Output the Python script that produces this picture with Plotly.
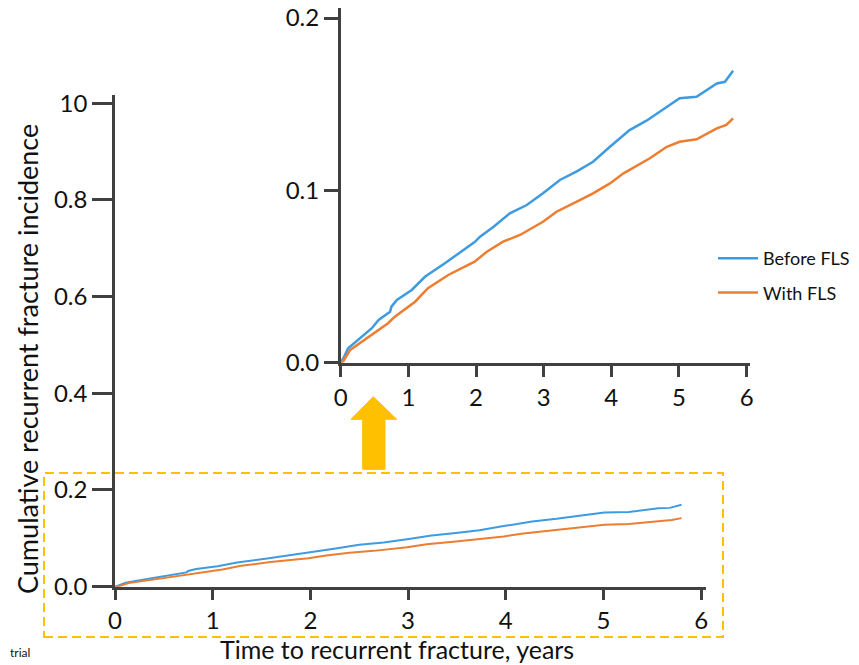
import plotly.graph_objects as go

# browser page adds an 8px body margin; the figure is sized to fit the window
OFF = 8
WIN_W, WIN_H = 859, 665
W, H = WIN_W - OFF, WIN_H - OFF

# ---- data ----
before_t = [0.0, 0.04, 0.11, 0.285, 0.46, 0.56, 0.73, 0.75, 0.83, 1.05, 1.25, 1.54, 1.74, 1.98,
            2.06, 2.26, 2.50, 2.75, 2.99, 3.24, 3.49, 3.73, 3.98, 4.27, 4.52, 4.72, 5.01,
            5.26, 5.56, 5.68, 5.80]
before_v = [0.0, 0.0026, 0.0084, 0.0142, 0.0200, 0.0248, 0.0296, 0.0325, 0.0364, 0.0422, 0.0500,
            0.0577, 0.0635, 0.0700, 0.0731, 0.0789, 0.0867, 0.0915, 0.0983, 0.1060, 0.1110,
            0.1166, 0.1253, 0.1350, 0.1404, 0.1456, 0.1534, 0.1543, 0.1620, 0.1630, 0.1694]

with_t = [0.0, 0.04, 0.14, 0.31, 0.51, 0.70, 0.80, 1.10, 1.29, 1.59, 1.98, 2.16, 2.40, 2.65,
          2.99, 3.19, 3.49, 3.73, 3.98, 4.18, 4.57, 4.82, 5.01, 5.26, 5.56, 5.70, 5.80]
with_v = [0.0, 0.0010, 0.0074, 0.0122, 0.0180, 0.0229, 0.0267, 0.0354, 0.0432, 0.0509, 0.0586,
          0.0644, 0.0702, 0.0741, 0.0818, 0.0876, 0.0934, 0.0983, 0.1040, 0.1099, 0.1186,
          0.1253, 0.1282, 0.1296, 0.1360, 0.1380, 0.1418]

series_names = ["Before FLS", "With FLS"]
series_colors = ["#3F9BE0", "#ED7D31"]

main_x_ticks = [0, 1, 2, 3, 4, 5, 6]
main_y_ticks = [0.0, 0.2, 0.4, 0.6, 0.8, 1.0]
main_y_text = ["0.0", "0.2", "0.4", "0.6", "0.8", "10"]
inset_y_ticks = [0.0, 0.1, 0.2]
inset_y_text = ["0.0", "0.1", "0.2"]

x_title = "Time to recurrent fracture, years"
y_title = "Cumulative recurrent fracture incidence"


def px(x):
    return min(1.0, max(0.0, (x - OFF) / W))


def py(y):
    return min(1.0, max(0.0, 1 - (y - OFF) / H))


FONT = "Lato"
AX = "#404040"
GOLD = "#FFC000"
TXT = "#111111"

fig = go.Figure()
data = [(before_t, before_v), (with_t, with_v)]
for i, (t, v) in enumerate(data):
    fig.add_trace(go.Scatter(x=t, y=v, mode="lines", name=series_names[i],
                             line=dict(color=series_colors[i], width=2),
                             xaxis="x", yaxis="y", showlegend=False))
for i, (t, v) in enumerate(data):
    fig.add_trace(go.Scatter(x=t, y=v, mode="lines", name=series_names[i],
                             line=dict(color=series_colors[i], width=2.5),
                             xaxis="x2", yaxis="y2", showlegend=True,
                             legendgroup=series_names[i]))

axis_common = dict(showline=True, linecolor=AX, linewidth=2.5, ticks="outside",
                   tickcolor=AX, tickwidth=2.5, showgrid=False, zeroline=False,
                   automargin=False, ticklabeloverflow="allow",
                   tickfont=dict(family=FONT, size=24, color=TXT))

fig.update_layout(
    width=W, height=H,
    margin=dict(l=0, r=0, t=0, b=0, autoexpand=False),
    paper_bgcolor="white", plot_bgcolor="rgba(0,0,0,0)",
    xaxis=dict(domain=[px(115), px(706)], range=[0, 6.05], tickvals=main_x_ticks,
               ticklen=11, anchor="y", **axis_common),
    yaxis=dict(domain=[py(586.7), py(95)], range=[0, 1.0168], tickvals=main_y_ticks,
               ticktext=main_y_text, ticklen=20, anchor="x", **axis_common),
    xaxis2=dict(domain=[px(340.7), px(750)], range=[0, 6.05], tickvals=main_x_ticks,
                ticklen=12, anchor="y2", **axis_common),
    yaxis2=dict(domain=[py(362.7), py(8)], range=[0, 0.2058], tickvals=inset_y_ticks,
                ticktext=inset_y_text, ticklen=14, anchor="x2", **axis_common),
    showlegend=True,
    legend=dict(x=px(713), y=py(240), xanchor="left", yanchor="top",
                font=dict(family=FONT, size=18, color=TXT),
                bgcolor="rgba(0,0,0,0)", tracegroupgap=8, itemwidth=40),
    font=dict(family=FONT),
)

# axis titles
fig.add_annotation(x=px(27), y=py(359), xref="paper", yref="paper", text=y_title,
                   textangle=-90, showarrow=False, xanchor="center", yanchor="middle",
                   font=dict(family=FONT, size=27, color=TXT))
fig.add_annotation(x=px(397), y=py(649), xref="paper", yref="paper", text=x_title,
                   showarrow=False, xanchor="center", yanchor="middle",
                   font=dict(family=FONT, size=25, color=TXT))
# small text at the bottom-left edge
fig.add_annotation(x=px(8), y=py(662), xref="paper", yref="paper", text="trial",
                   showarrow=False, xanchor="left", yanchor="bottom",
                   font=dict(family=FONT, size=12, color=TXT))

# dashed box around the main plot bottom
fig.add_shape(type="rect", xref="paper", yref="paper",
              x0=px(44), x1=px(723), y0=py(637), y1=py(473),
              line=dict(color=GOLD, width=2, dash="9px,5px"), fillcolor="rgba(0,0,0,0)")

# up arrow
pts = [(362.7, 469.3), (385, 469.3), (385, 419.3), (396.7, 419.3), (373.3, 396.7),
       (351, 419.3), (362.7, 419.3)]
path = "M " + " L ".join(f"{px(a):.5f},{py(b):.5f}" for a, b in pts) + " Z"
fig.add_shape(type="path", xref="paper", yref="paper", path=path,
              fillcolor=GOLD, line=dict(color=GOLD, width=1))

fig.write_html("out.html")
